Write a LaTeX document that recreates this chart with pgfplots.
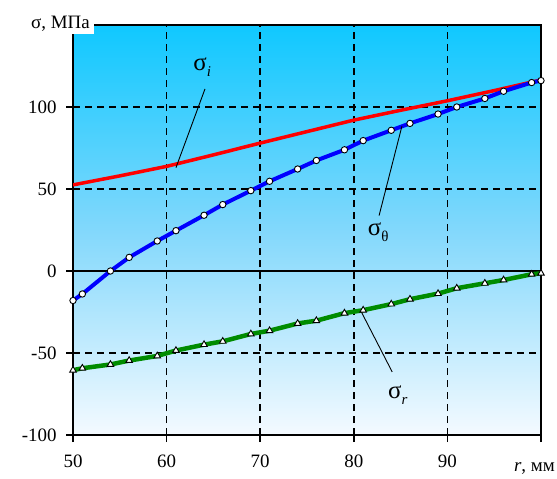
\documentclass[border=0pt]{standalone}
\usepackage{fontspec}
\setmainfont{Liberation Serif}
\usepackage{pgfplots}
\pgfplotsset{compat=1.18}
\definecolor{topblue}{RGB}{15,200,255}
\definecolor{midblue}{RGB}{130,216,252}
\definecolor{botblue}{RGB}{244,250,255}
\definecolor{myred}{RGB}{255,0,0}
\definecolor{myblue}{RGB}{0,0,255}
\definecolor{mygreen}{RGB}{0,140,0}
\begin{document}
\begin{tikzpicture}
\begin{axis}[
  scale only axis, width=468bp, height=410bp,
  xmin=50, xmax=100, ymin=-100, ymax=150,
  xtick={50,60,70,80,90,100}, xticklabels={50,60,70,80,90,{}},
  ytick={-100,-50,0,50,100},
  tick align=outside, major tick length=7bp,
  xtick pos=left, ytick pos=left,
  grid=major,
  major grid style={black, dash pattern=on 7bp off 5bp, line width=1.5bp},
  axis line style={line width=1.3bp},
  tick style={black, line width=1.5bp},
  axis background/.style={top color=topblue, bottom color=botblue, middle color=midblue},
  tick label style={font=\fontsize{19}{19}\selectfont},
  /pgf/number format/assume math mode=true,
  xticklabel style={yshift=-9bp},
  yticklabel style={xshift=-6bp},
]
\addplot[black, line width=1.3bp] coordinates {(50,0) (100,0)};
% sigma_i
\addplot[myred, line width=3.5bp] coordinates {
(50,52.5) (55,58) (60,63.8) (65,70.8) (70,78) (75,85) (80,92) (85,98) (90,103.8) (95,110) (100,116.5)};
% sigma_theta
\addplot[myblue, line width=4bp, mark=*, mark size=3.2bp,
  mark options={fill=white, draw=black, line width=0.9bp}] coordinates {
(50,-18) (51,-14) (54,0) (56,8.3) (59,18.3) (61,24.6) (64,34) (66,40.5) (69,49)
(71,54.7) (74,62.2) (76,67.4) (79,73.9) (81,79.5) (84,85.8) (86,90) (89,95.7)
(91,100) (94,105.2) (96,109.6) (99,114.9) (100,116.1)};
% sigma_r
\addplot[mygreen, line width=4.5bp, mark=triangle*, mark size=3.8bp,
  mark options={fill=white, draw=black, line width=0.9bp}] coordinates {
(50,-60.5) (51,-59.3) (54,-57) (56,-54.6) (59,-51.8) (61,-48.5) (64,-44.9) (66,-42.9)
(69,-38.4) (71,-36.4) (74,-32) (76,-30.3) (79,-25.7) (81,-23.9) (84,-20.2) (86,-17.2)
(89,-13.8) (91,-10.5) (94,-7.5) (96,-5.5) (99,-2) (100,-1.4)};
\draw[line width=0.9bp] (axis cs:64.1,111) -- (axis cs:61.0,63);
\draw[line width=0.9bp] (axis cs:82.7,33.8) -- (axis cs:85.15,88.5);
\draw[line width=0.9bp] (axis cs:80.8,-24.9) -- (axis cs:84.1,-61.5);
\node at (axis cs:63.8,124.3) {\fontsize{25}{25}\selectfont σ\raisebox{-6bp}{\fontsize{15}{15}\selectfont\itshape i}};
\node at (axis cs:82.6,23.5) {\fontsize{25}{25}\selectfont σ\raisebox{-6bp}{\fontsize{15}{15}\selectfont θ}};
\node at (axis cs:84.7,-75.5) {\fontsize{25}{25}\selectfont σ\raisebox{-6bp}{\fontsize{15}{15}\selectfont\itshape r}};
\end{axis}
\node[fill=white, inner xsep=4bp, inner ysep=2bp, anchor=base east]
  at ([shift={(21bp,-4bp)}]current axis.north west) {\fontsize{19}{19}\selectfont σ, МПа};
\node[anchor=base east, inner sep=0pt] at ([shift={(14bp,-36bp)}]current axis.south east)
  {\fontsize{19}{19}\selectfont\textit{r},\ мм};
\pgfresetboundingbox
\path[use as bounding box] ([shift={(-73bp,-43bp)}]current axis.south west) rectangle ([shift={(16bp,25bp)}]current axis.north east);
\end{tikzpicture}
\end{document}
